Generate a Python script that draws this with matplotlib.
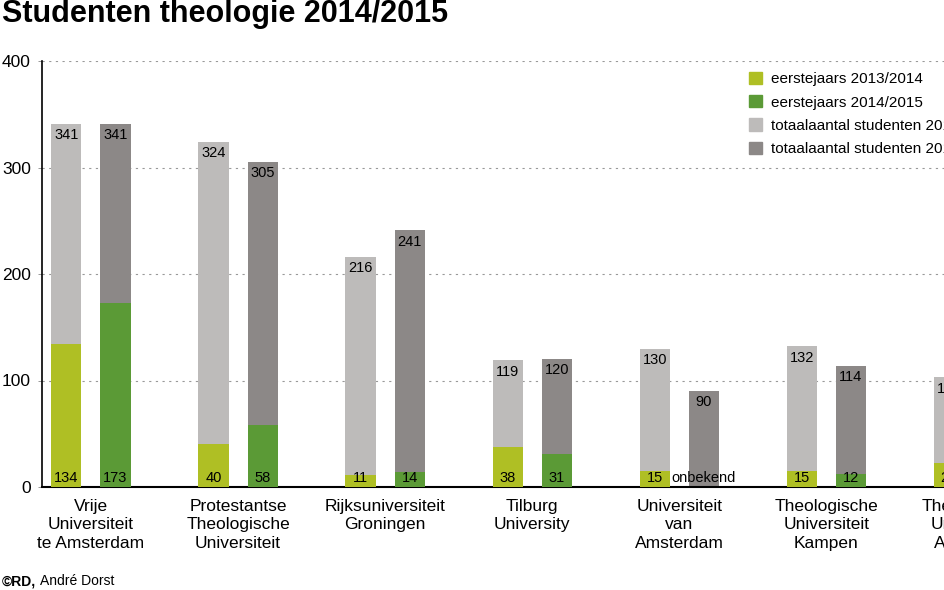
import numpy as np
import matplotlib
matplotlib.use("Agg")
import matplotlib.pyplot as plt
from matplotlib.patches import Patch

plt.rcParams['font.family'] = ['Liberation Sans', 'DejaVu Sans']

# data
categories = ["Vrije\nUniversiteit\nte Amsterdam",
              "Protestantse\nTheologische\nUniversiteit",
              "Rijksuniversiteit\nGroningen",
              "Tilburg\nUniversity",
              "Universiteit\nvan\nAmsterdam",
              "Theologische\nUniversiteit\nKampen",
              "Theologische\nUniversiteit\nApeldoorn"]
totaal_1314 = [341, 324, 216, 119, 130, 132, 103]
totaal_1415 = [341, 305, 241, 120, 90, 114, 100]
eerste_1314 = [134, 40, 11, 38, 15, 15, 23]
eerste_1415 = [173, 58, 14, 31, None, 12, 20]   # None = onbekend

labels = ["eerstejaars 2013/2014", "eerstejaars 2014/2015",
          "totaalaantal studenten 2013/2014", "totaalaantal studenten 2014/2015"]
c_lgreen = "#afbf24"
c_green = "#5b9a36"
c_lgrey = "#bdbbba"
c_dgrey = "#8c8887"

fig = plt.figure(figsize=(9.44, 5.90), dpi=100)
ax = fig.add_axes([42/944, 103/590, 1 - 42/944, 426/590])

x = np.arange(len(categories))
off = 0.167
w = 0.205

ax.bar(x - off, totaal_1314, w, color=c_lgrey, zorder=2)
ax.bar(x + off, totaal_1415, w, color=c_dgrey, zorder=2)
ax.bar(x - off, eerste_1314, w, color=c_lgreen, zorder=3)
e15 = [v if v is not None else 0 for v in eerste_1415]
ax.bar(x + off, e15, w, color=c_green, zorder=3)

# value labels
fs = 10.5
for i in range(len(categories)):
    ax.text(x[i] - off, totaal_1314[i] - 4, str(totaal_1314[i]), ha='center', va='top',
            fontsize=fs, zorder=5)
    ax.text(x[i] + off, totaal_1415[i] - 4, str(totaal_1415[i]), ha='center', va='top',
            fontsize=fs, zorder=5)
    ax.text(x[i] - off, 1.5, str(eerste_1314[i]), ha='center', va='bottom',
            fontsize=fs, zorder=5)
    if eerste_1415[i] is None:
        ax.text(x[i] + off, 1.5, "onbekend", ha='center', va='bottom',
                fontsize=fs, zorder=5)
    else:
        ax.text(x[i] + off, 1.5, str(eerste_1415[i]), ha='center', va='bottom',
                fontsize=fs, zorder=5)

# category labels as text so the last (cut off) one is still drawn
trans = ax.get_xaxis_transform()
for i, cat in enumerate(categories):
    ax.text(x[i], -0.027, cat, transform=trans, ha='center', va='top',
            fontsize=12.5, linespacing=1.3, clip_on=False)

ax.set_yticks([0, 100, 200, 300, 400])
ax.tick_params(axis='y', labelsize=12.5, length=3, width=0.6, color='#888888', pad=5)
ax.set_xticks([])
ax.set_xlim(-0.333, 5.80)
ax.set_ylim(0, 400)

ax.yaxis.grid(True, linestyle=(0, (2, 4)), color='#999999', linewidth=0.8, zorder=0)
ax.set_axisbelow(True)
for s in ['top', 'right']:
    ax.spines[s].set_visible(False)
ax.spines['left'].set_linewidth(1.2)
ax.spines['bottom'].set_linewidth(1.5)

handles = [Patch(color=c) for c in (c_lgreen, c_green, c_lgrey, c_dgrey)]
fig.legend(handles, labels, loc='upper left', bbox_to_anchor=(749/944, 1 - 72/590),
           frameon=False, fontsize=11, handlelength=0.85, handleheight=0.85,
           labelspacing=0.58, handletextpad=0.6, borderpad=0, borderaxespad=0)

fig.text(2/944, 1 - 14/590, "Studenten theologie 2014/2015", fontsize=22,
         fontweight='bold', ha='left', va='center')
t1 = fig.text(2/944, 1 - 581/590, "©RD,", fontsize=10, fontweight='bold',
              ha='left', va='center')
fig.canvas.draw()
bb = t1.get_window_extent()
fig.text((bb.x1 + 4) / 944, 1 - 581/590, "André Dorst", fontsize=10,
         ha='left', va='center')

fig.savefig("out.png", dpi=100)
